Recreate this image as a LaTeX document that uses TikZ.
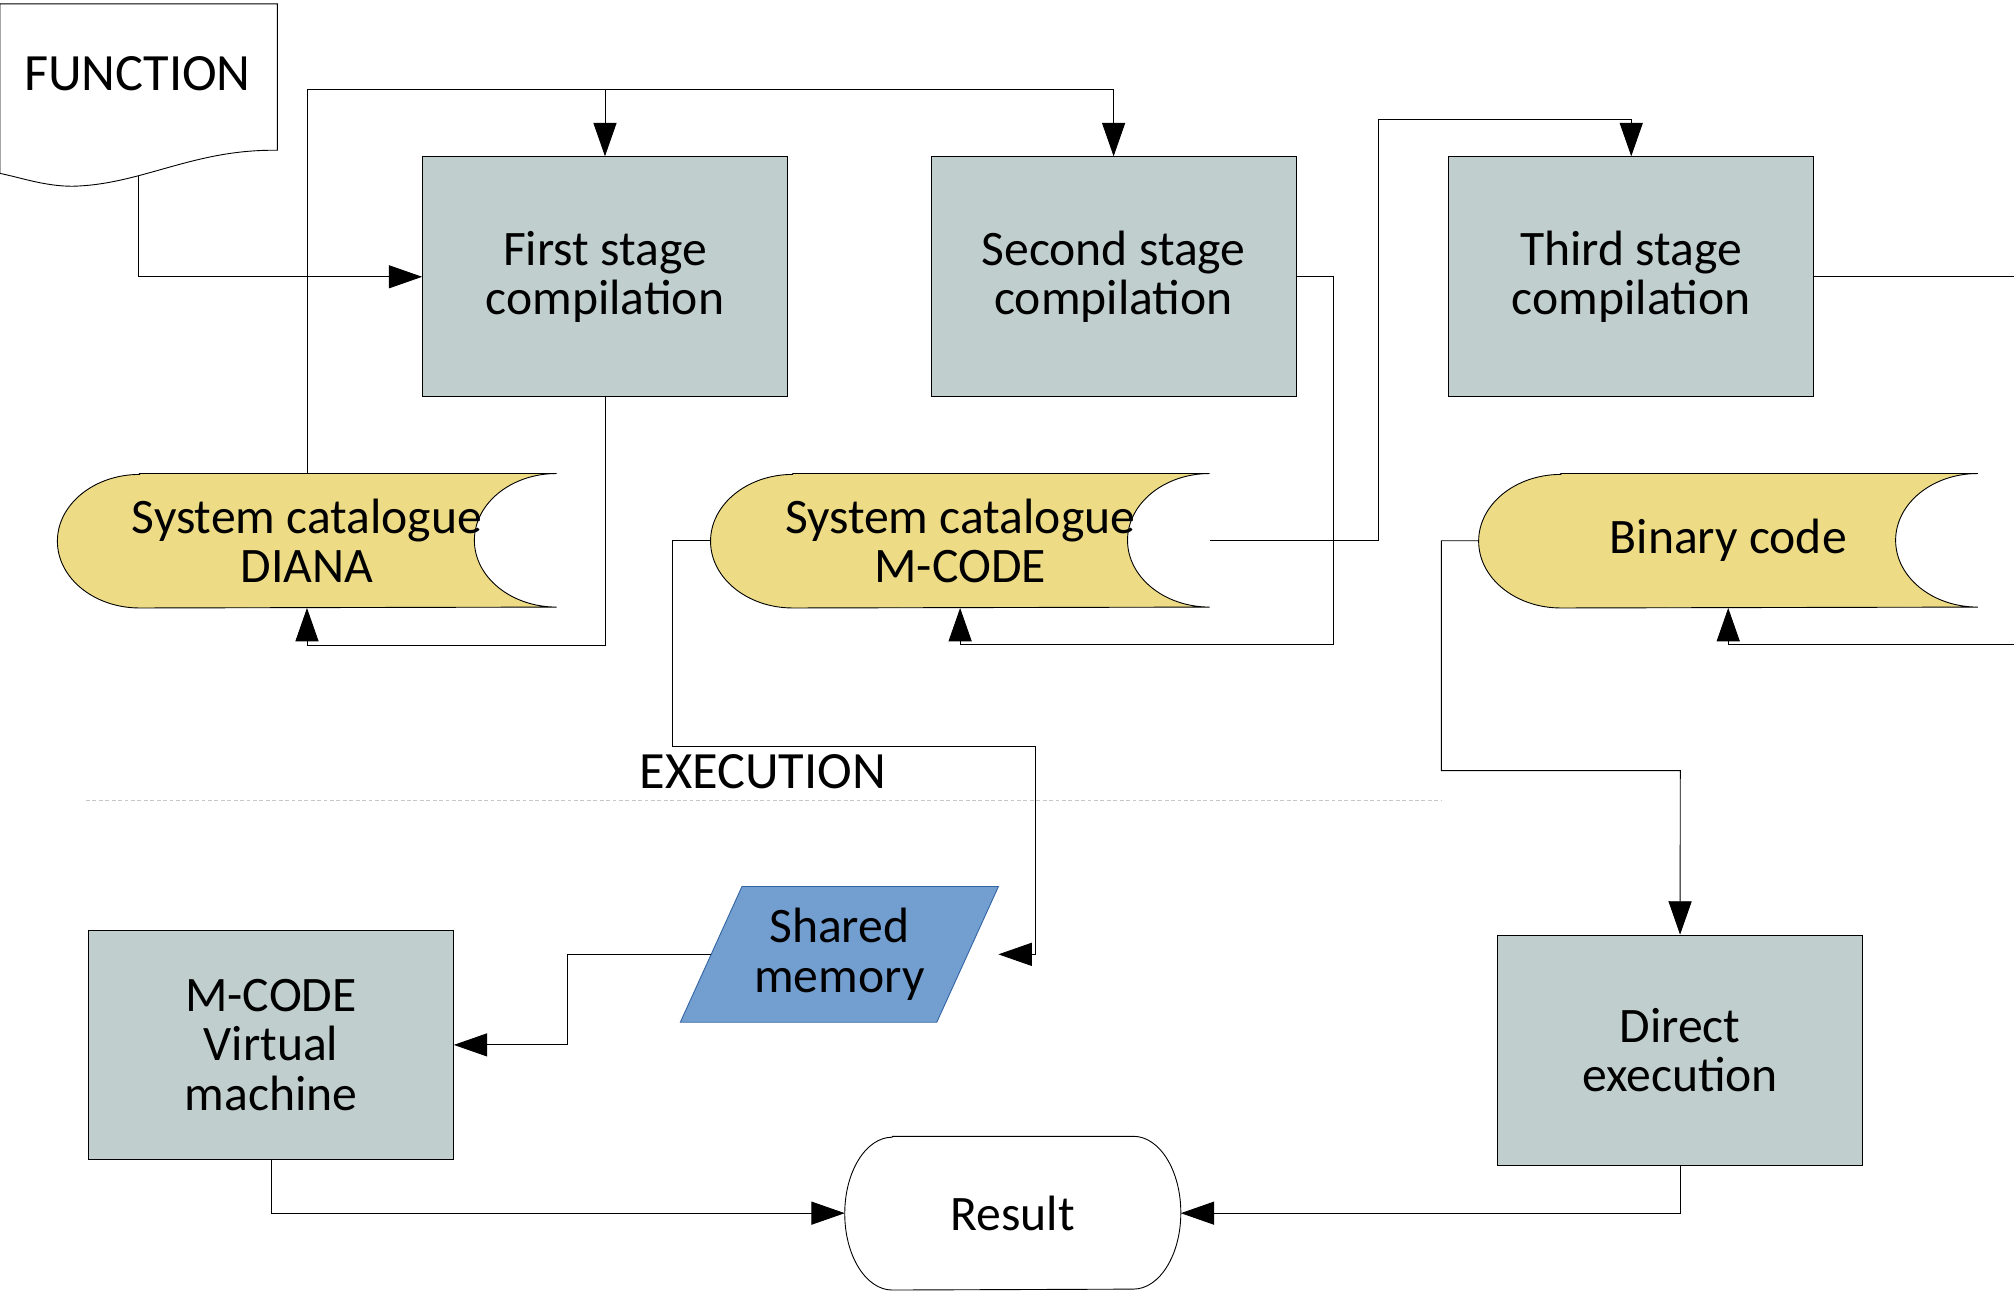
\documentclass[tikz,border=0pt]{standalone}
\usepackage{fontspec}
\setmainfont{Carlito}
\usetikzlibrary{arrows.meta,backgrounds}
\definecolor{boxgray}{HTML}{C1CECE}
\definecolor{catyellow}{HTML}{EDDC85}
\definecolor{memblue}{HTML}{729FCF}
\definecolor{memedge}{HTML}{3465A4}
\tikzstyle{stagebox} = [draw, fill=boxgray, minimum width=5.68cm,
  minimum height=3.74cm, inner sep=2pt, align=center]
\tikzstyle{catalogue} = [minimum width=7.76cm, minimum height=2.08cm,
  inner sep=0pt, align=center]
\tikzstyle{membox} = [minimum width=4.94cm, minimum height=2.1cm,
  inner sep=0pt, align=center]
\tikzstyle{terminal} = [minimum width=5.22cm, minimum height=2.38cm,
  inner sep=0pt, align=center]
\tikzstyle{bigcaps} = [font=\fontsize{23.2}{22}\selectfont]
\tikzstyle{diredge} = [->, >={Triangle[length=5.2mm,width=3.6mm]}]
\tikzstyle{separator} = [black!22, dash pattern=on 0.06cm off 0.04cm]

\begin{document}
\begin{tikzpicture}[x=0.02cm, y=-0.02cm,
    every node/.style={font=\fontsize{22}{21.8}\selectfont}]
    \useasboundingbox (0,0) rectangle (1568,1007);
    % compilation
    \node[bigcaps] (function) at (107,57) {FUNCTION};
    \node[stagebox] (stage1) at (471,215.5) {First stage\\compilation};
    \node[stagebox] (stage2) at (867,215.5) {Second stage\\compilation};
    \node[stagebox] (stage3) at (1270,215.5) {Third stage\\compilation};
    \node[catalogue] (diana) at (239,421) {System catalogue\\DIANA};
    \node[catalogue] (mcat) at (747.5,421) {System catalogue\\M-CODE};
    \node[catalogue] (bincode) at (1345.5,421) {Binary code};
    % execution
    \node[bigcaps] (exec) at (594,601) {EXECUTION};
    \node[membox] (shmem) at (653.5,743) {Shared\\memory};
    \node[stagebox, minimum height=3.58cm] (vm) at (211,813.5)
        {M-CODE\\Virtual\\machine};
    \node[stagebox, minimum height=3.58cm] (direct) at (1308,817.5)
        {Direct\\execution};
    \node[terminal] (result) at (788.5,944.5) {Result};
    \coordinate (fnout) at (108,137);
    \coordinate (bus) at (471,70);
    \coordinate (offa) at (1568,215.5);
    \coordinate (offb) at (1568,502);

    \begin{scope}[on background layer]
        \filldraw[fill=white] (0,3) -- (216,3) -- (216,117)
            .. controls (150,116) and (110,144) .. (56,145)
            .. controls (35,145) and (15,138) .. (0,135) -- cycle;
        \foreach \c in {diana,mcat,bincode}
            \filldraw[fill=catyellow] ([xshift=1.28cm]\c.north west)
                -- (\c.north east)
                arc[start angle=90, end angle=270, x radius=1.28cm, y radius=1.04cm]
                -- ([xshift=1.28cm]\c.south west)
                arc[start angle=270, end angle=90, x radius=1.28cm, y radius=1.04cm]
                -- cycle;
        \filldraw[fill=memblue, draw=memedge] (shmem.south west)
            -- ([xshift=0.96cm]shmem.north west) -- (shmem.north east)
            -- ([xshift=-0.96cm]shmem.south east) -- cycle;
        \draw ([xshift=0.74cm]result.north west)
            -- ([xshift=-0.74cm]result.north east)
            arc[start angle=90, end angle=-90, x radius=0.74cm, y radius=1.19cm]
            -- ([xshift=0.74cm]result.south west)
            arc[start angle=270, end angle=90, x radius=0.74cm, y radius=1.19cm]
            -- cycle;
    \end{scope}

    \draw[separator] (67,623) -- (1122,623);

    \draw[diredge] (fnout) |- (stage1.west);
    \draw[diredge] (diana.north) |- (bus) -| (stage2.north);
    \draw[diredge] (bus) -- (stage1.north);
    \draw[diredge] (stage1.south) -- ++(0,193) -| (diana.south);
    \draw[diredge] (stage2.east) -- ++(29,0) -- ++(0,286.5) -| (mcat.south);
    \draw[diredge] (mcat.east) -| ++(131,-328) -| (stage3.north);
    \draw (stage3.east) -- (offa);
    \draw[diredge] (offb) -| (bincode.south);

    \draw[diredge] (mcat.west) -- ++(-30,0) |- ++(283,160) |- (shmem.east);
    \draw[diredge] ([xshift=0.48cm]shmem.west) -- ++(-112,0) |- (vm.east);
    \draw[diredge] (bincode.west) -- ++(-29,0) |- ++(186,179) -- (direct.north);
    \draw[diredge] (vm.south) |- (result.west);
    \draw[diredge] (direct.south) |- (result.east);
\end{tikzpicture}
\end{document}
